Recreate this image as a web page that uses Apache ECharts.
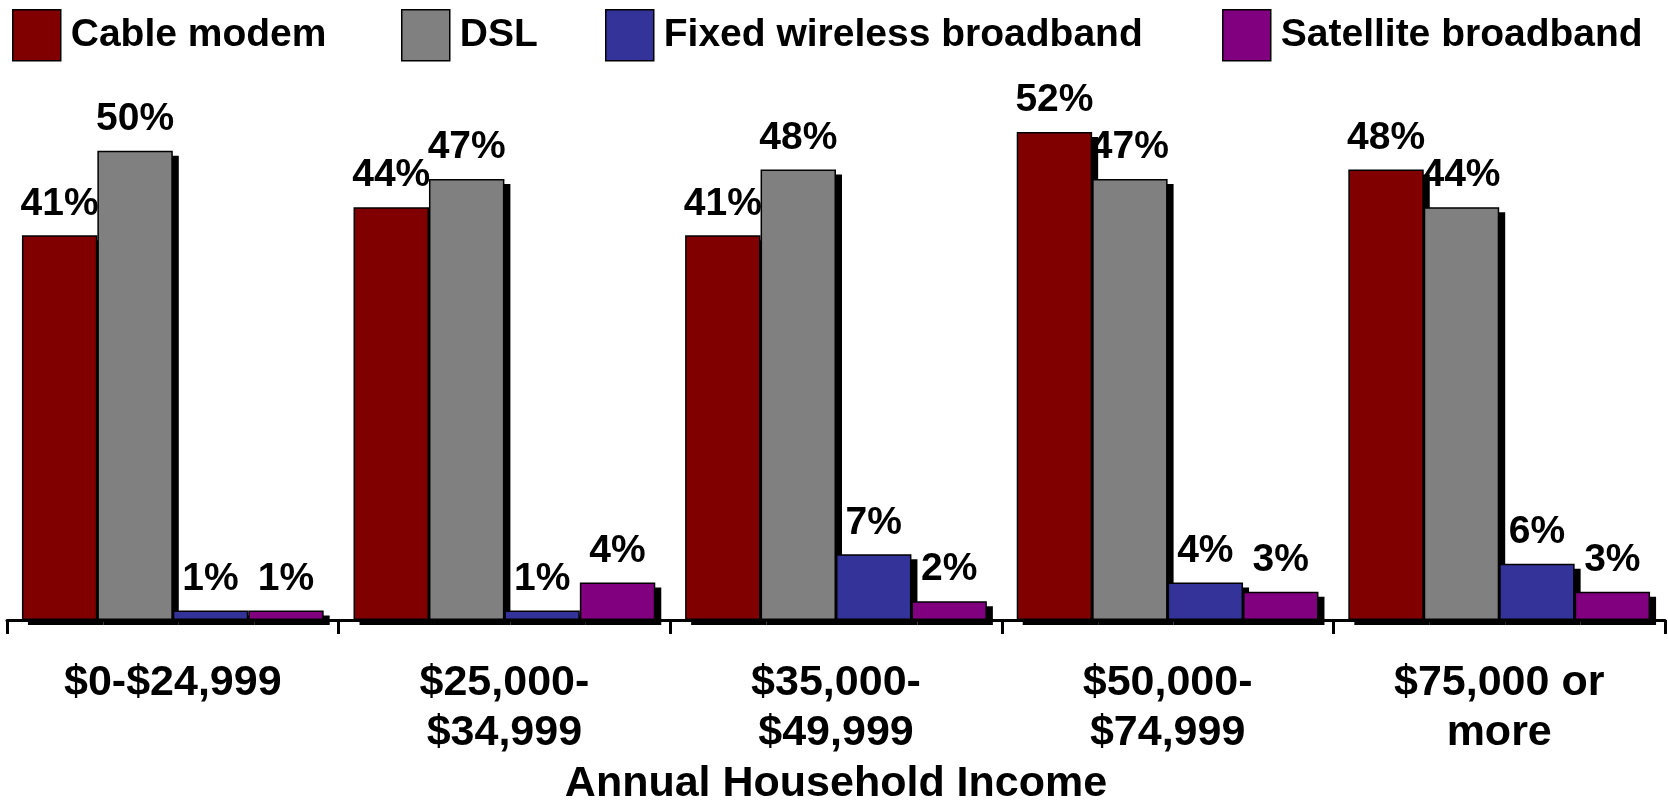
<!DOCTYPE html>
<html>
<head>
<meta charset="utf-8">
<script src="https://cdn.jsdelivr.net/npm/echarts@6/dist/echarts.min.js"></script>
<style>
  html, body { margin: 0; padding: 0; background: #fff; }
  #chart { width: 1668px; height: 802px; }
</style>
</head>
<body>
<div id="chart"></div>
<script>
// income groups on the x axis
const incomeGroups = ['$0-$24,999', '$25,000-\n$34,999', '$35,000-\n$49,999', '$50,000-\n$74,999', '$75,000 or\nmore']

// share of broadband households (%)
const cableModem = [41, 44, 41, 52, 48]
const dsl = [50, 47, 48, 47, 44]
const fixedWireless = [1, 1, 7, 4, 6]
const satellite = [1, 4, 2, 3, 3]

const seriesNames = ['Cable modem', 'DSL', 'Fixed wireless broadband', 'Satellite broadband']
const seriesColors = ['#800000', '#808080', '#333399', '#800080']
const seriesData = [cableModem, dsl, fixedWireless, satellite]

const legendLeft = [12, 401, 605, 1222]

const font = 'Liberation Sans, Arial, sans-serif'

const chart = echarts.init(document.getElementById('chart'))

// main bars
const mainSeries = seriesNames.map((name, i) => ({
  name: name,
  type: 'bar',
  z: 3,
  data: seriesData[i],
  barGap: '0%',
  barCategoryGap: '9%',
  itemStyle: {
    color: seriesColors[i],
    borderColor: '#000',
    borderWidth: 1.5
  },
  label: {
    show: true,
    position: 'top',
    distance: 12,
    formatter: '{c}%',
    fontFamily: font,
    fontWeight: 'bold',
    fontSize: 39,
    color: '#000'
  }
}))

// drop shadows: same bars on a second grid shifted right/down
const shadowSeries = seriesNames.map((name, i) => ({
  name: 'shadow ' + name,
  type: 'bar',
  z: 1,
  xAxisIndex: 1,
  yAxisIndex: 1,
  data: seriesData[i],
  barGap: '0%',
  barCategoryGap: '9%',
  silent: true,
  itemStyle: { color: '#000' }
}))

const option = {
  animation: false,
  backgroundColor: '#fff',
  legend: seriesNames.map((name, i) => ({
    data: [name],
    left: legendLeft[i],
    top: 9,
    padding: 0,
    icon: 'rect',
    itemWidth: 48,
    itemHeight: 51,
    itemGap: 0,
    selectedMode: false,
    itemStyle: { borderColor: '#000', borderWidth: 1.5 },
    textStyle: { fontFamily: font, fontWeight: 'bold', fontSize: 39, color: '#000', padding: [0, 0, 0, 5] }
  })),
  grid: [
    { left: 7, right: 3, top: 57, bottom: 182, containLabel: false, outerBoundsMode: 'none' },
    { left: 13, right: -3, top: 62, bottom: 177, containLabel: false, outerBoundsMode: 'none' }
  ],
  xAxis: [
    {
      type: 'category',
      gridIndex: 0,
      data: incomeGroups,
      boundaryGap: true,
      name: 'Annual Household Income',
      nameLocation: 'middle',
      nameGap: 143,
      nameTextStyle: { fontFamily: font, fontWeight: 'bold', fontSize: 43, color: '#000' },
      z: 5,
      axisLine: { show: true, lineStyle: { color: '#000', width: 3 } },
      axisTick: { show: true, interval: 0, alignWithLabel: false, inside: false, length: 14, lineStyle: { color: '#000', width: 3 } },
      axisLabel: {
        fontFamily: font,
        fontWeight: 'bold',
        fontSize: 43,
        lineHeight: 50,
        color: '#000',
        margin: 38,
        interval: 0
      }
    },
    {
      type: 'category',
      gridIndex: 1,
      data: incomeGroups,
      show: false
    }
  ],
  yAxis: [
    { type: 'value', gridIndex: 0, min: 0, max: 60, show: false },
    { type: 'value', gridIndex: 1, min: 0, max: 60, show: false }
  ],
  series: shadowSeries.concat(mainSeries)
}

chart.setOption(option)
</script>
</body>
</html>
